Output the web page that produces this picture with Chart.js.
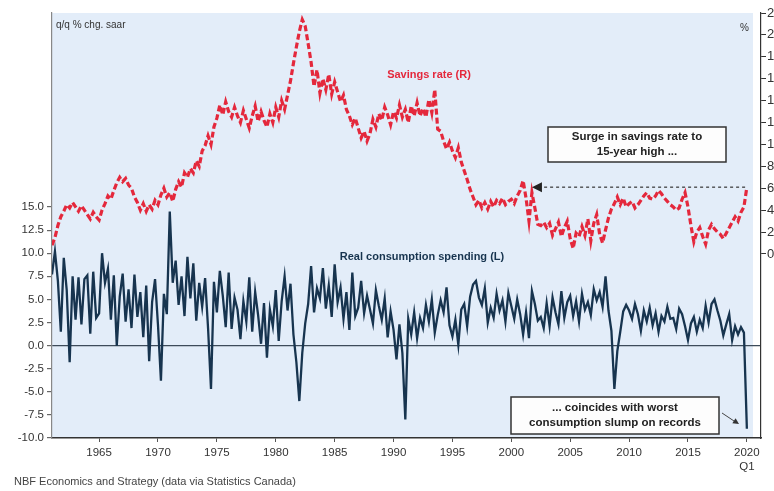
<!DOCTYPE html>
<html>
<head>
<meta charset="utf-8">
<script src="https://cdn.jsdelivr.net/npm/chart.js@4.4.0/dist/chart.umd.min.js"></script>
<style>
  html, body { margin: 0; padding: 0; background: #fff; overflow: hidden; }
  #wrap { position: relative; width: 800px; height: 491px; }
</style>
</head>
<body>
<div id="wrap"><canvas id="chart" width="800" height="491"></canvas></div>
<script>
// quarterly series, 1961 Q1 .. 2020 Q1
const firstYear = 1961;

// real consumption spending, q/q % chg. saar (left axis)
const consumption = [
  7.7, 10.2, 7.0, 1.5,
  9.5, 6.0, -1.8, 7.5,
  2.8, 7.4, 2.3, 7.2,
  7.6, 1.3, 8.0, 3.0,
  3.5, 10.0, 6.8, 8.3,
  2.8, 7.6, 0.0, 5.3,
  7.8, 2.6, 6.1, 1.9,
  7.7, 3.1, 5.8, 0.9,
  6.5, -1.7, 4.7, 7.2,
  2.2, -3.8, 5.6, 3.4,
  14.5, 6.8, 9.2, 4.4,
  7.5, 3.2, 9.6, 5.1,
  8.9, 2.7, 6.8, 4.2,
  7.3, 1.9, -4.7, 6.9,
  3.6, 8.1, 5.4, 2.0,
  7.9, 1.8, 5.2, 3.9,
  0.7, 4.8, 2.6, 7.4,
  1.5, 5.8, 3.3, 0.2,
  4.6, -1.3, 3.9, 2.1,
  6.0, 0.5, 4.8, 7.5,
  3.8, 6.7, 1.2, -1.8,
  -6.0, -0.8, 2.4, 4.5,
  8.6, 3.6, 6.2, 5.1,
  8.4, 4.0, 6.5, 3.1,
  8.8, 4.7, 6.3, 2.9,
  5.8, 1.7, 7.9, 3.2,
  4.1, 7.0, 3.5, 5.4,
  3.9, 2.4, 6.0, 4.3,
  2.8, 5.1, 0.9, 3.7,
  1.7, -1.5, 2.3, -0.8,
  -8.0, 2.9, 1.2, 3.6,
  0.8, 3.0, 1.9, 4.4,
  2.6, 5.0, 1.4, 3.3,
  4.9, 3.6, 6.3, 2.2,
  1.0, 2.8, 0.1, 3.9,
  4.5, 2.1, 5.3, 6.6,
  7.0, 5.2, 4.4, 6.2,
  2.5, 4.1, 3.0, 5.6,
  3.8, 4.9, 2.6, 5.7,
  4.3, 2.9, 5.0, 3.4,
  1.2, 3.6, 0.8, 5.9,
  4.5, 2.7, 3.1, 1.9,
  4.6, 2.1, 5.2, 3.6,
  2.3, 5.9, 3.0, 4.7,
  5.4, 3.2, 4.8, 2.6,
  5.6, 3.9, 4.7, 3.3,
  6.1, 4.9, 5.8, 4.2,
  7.5, 3.8, 1.6, -4.7,
  -0.6, 1.5, 3.7, 4.4,
  3.8, 2.9, 4.5, 3.4,
  1.6, 3.8, 2.6, 4.1,
  2.2, 3.5, 1.5, 3.2,
  2.6, 4.2, 2.9, 3.0,
  1.8, 4.0, 3.4, 2.1,
  0.6, 2.4, 3.1, 1.5,
  2.8, 1.9, 4.3, 2.5,
  4.5, 5.0, 3.8, 2.7,
  1.1, 2.3, 3.4, 0.6,
  2.1, 1.2, 2.0, 1.4,
  -9.0
];

// household savings rate, % (right axis)
const savingsRate = [
  0.8, 1.5, 2.6, 3.4,
  3.9, 4.5, 4.2, 4.7,
  4.3, 3.9, 4.4, 4.0,
  3.6, 3.2, 3.8, 3.4,
  3.1, 4.0, 4.6, 5.3,
  5.0, 5.8, 6.5, 7.0,
  6.6, 6.9, 6.3, 6.0,
  5.2, 4.7, 4.0, 4.6,
  3.9, 4.5, 4.1, 4.9,
  4.5, 5.4, 6.0, 5.2,
  5.6, 4.8, 5.9, 6.6,
  6.1, 7.4, 7.0, 7.8,
  7.4, 8.5, 8.0, 9.4,
  9.9, 10.8, 10.0, 11.6,
  12.4, 13.6, 12.7, 13.9,
  13.0, 12.5, 13.4, 12.6,
  12.0, 13.1, 12.3, 11.5,
  12.6, 13.5, 12.1, 13.0,
  12.2, 11.6, 12.8, 12.0,
  13.4, 12.5, 14.0, 13.2,
  14.5, 15.8, 17.4, 18.9,
  20.3, 21.4, 20.8, 19.2,
  17.5, 15.3, 16.8, 14.7,
  16.0, 15.0, 16.4, 14.6,
  15.7, 14.8, 13.9, 14.5,
  13.2, 12.6, 11.8, 12.4,
  11.5, 10.6, 11.2, 10.3,
  11.0, 12.3, 11.6, 12.8,
  12.2, 13.4, 12.7, 11.8,
  13.0, 12.4, 13.6, 12.5,
  13.2, 12.0, 13.5, 12.6,
  13.8, 12.6, 13.3, 12.5,
  14.1, 12.9, 15.0, 11.4,
  11.2, 10.3, 9.6, 10.2,
  9.4, 8.8, 9.7, 8.4,
  7.6, 6.8, 5.9, 5.2,
  4.5, 4.9, 4.2, 4.7,
  4.1, 4.8, 4.3, 4.9,
  4.6, 5.1, 4.5, 4.8,
  5.0, 4.6, 5.3, 5.8,
  6.7, 5.1, 3.0, 5.6,
  4.2, 2.7, 2.6, 2.9,
  2.4, 2.8, 1.7, 2.3,
  2.9, 1.6, 2.4, 3.0,
  1.4, 0.5, 1.9, 1.6,
  2.5, 1.7, 3.2, 1.2,
  2.8, 3.6, 1.8, 1.0,
  2.2, 3.3, 4.1, 4.6,
  5.2, 4.5, 5.1, 4.3,
  4.6, 4.8, 4.2, 4.5,
  4.9, 5.3, 5.6, 5.1,
  5.0, 5.3, 5.8, 5.5,
  5.1, 4.8, 4.5, 4.3,
  4.0, 4.2, 5.0, 5.6,
  4.3, 2.6, 1.1, 2.0,
  2.4, 1.6, 0.9, 2.2,
  2.7, 2.3, 2.0, 1.8,
  1.4, 1.9, 2.4, 2.9,
  3.4, 3.0, 3.8, 4.3,
  6.1
];

const yearTicks = [1965, 1970, 1975, 1980, 1985, 1990, 1995, 2000, 2005, 2010, 2015, 2020];
const leftTicks = [-10, -7.5, -5, -2.5, 0, 2.5, 5, 7.5, 10, 12.5, 15];
const rightTicks = [0, 2, 4, 6, 8, 10, 12, 14, 16, 18, 20, 22];

const toPoints = arr => arr.map((v, i) => ({ x: firstYear + i / 4, y: v }));

const FONT = '"Liberation Sans", Arial, sans-serif';
const RED = '#e4283c';
const NAVY = '#17344f';

function arrowHead(ctx, x, y, angle, size) {
  ctx.save();
  ctx.translate(x, y);
  ctx.rotate(angle);
  ctx.beginPath();
  ctx.moveTo(0, 0);
  ctx.lineTo(-size, -size * 0.5);
  ctx.lineTo(-size, size * 0.5);
  ctx.closePath();
  ctx.fill();
  ctx.restore();
}

function textBox(ctx, x, y, w, h, lines) {
  ctx.save();
  ctx.fillStyle = '#fdfdfd';
  ctx.fillRect(x, y, w, h);
  ctx.strokeStyle = '#333';
  ctx.lineWidth = 1.5;
  ctx.strokeRect(x, y, w, h);
  ctx.fillStyle = '#222';
  ctx.font = 'bold 11.5px ' + FONT;
  ctx.textAlign = 'center';
  ctx.textBaseline = 'middle';
  lines.forEach((t, i) => ctx.fillText(t, x + w / 2, y + h / 2 + (i - (lines.length - 1) / 2) * 15));
  ctx.restore();
}

// light blue plot background
const plotBg = {
  id: 'plotBg',
  beforeDraw(chart) {
    const { ctx, chartArea: a } = chart;
    ctx.save();
    ctx.fillStyle = '#e3edf9';
    ctx.fillRect(a.left, a.top, a.right - a.left - 8, a.bottom - a.top);
    ctx.restore();
  }
};

// titles, series labels, source and call-outs
const notes = {
  id: 'notes',
  afterDraw(chart) {
    const { ctx } = chart;
    const xs = chart.scales.x;
    const yR = chart.scales.yR;
    ctx.save();
    ctx.textBaseline = 'middle';

    ctx.fillStyle = '#333';
    ctx.font = '10px ' + FONT;
    ctx.textAlign = 'left';
    ctx.fillText('q/q % chg. saar', 56, 25);
    ctx.fillText('%', 740, 28);

    ctx.font = '11px ' + FONT;
    ctx.fillStyle = '#444';
    ctx.fillText('NBF Economics and Strategy (data via Statistics Canada)', 14, 482);

    ctx.font = 'bold 11px ' + FONT;
    ctx.textAlign = 'center';
    ctx.fillStyle = RED;
    ctx.fillText('Savings rate (R)', 429, 75);
    ctx.fillStyle = NAVY;
    ctx.fillText('Real consumption spending (L)', 422, 257);

    // dashed arrow back to the last time savings were this high
    const lastSave = savingsRate[savingsRate.length - 1];
    const ay = yR.getPixelForValue(lastSave);
    const tipX = xs.getPixelForValue(2001.75);
    const tailX = xs.getPixelForValue(2019.85);
    ctx.strokeStyle = '#333';
    ctx.fillStyle = '#222';
    ctx.lineWidth = 1.2;
    ctx.setLineDash([3, 3]);
    ctx.beginPath();
    ctx.moveTo(tailX, ay);
    ctx.lineTo(tipX + 8, ay);
    ctx.stroke();
    ctx.setLineDash([]);
    arrowHead(ctx, tipX, ay, Math.PI, 10);

    textBox(ctx, 548, 127, 178, 35, ['Surge in savings rate to', '15-year high ...']);
    textBox(ctx, 511, 397, 208, 37, ['... coincides with worst', 'consumption slump on records']);

    // small pointer to the 2020 Q1 drop
    ctx.strokeStyle = '#444';
    ctx.fillStyle = '#333';
    ctx.lineWidth = 1;
    ctx.beginPath();
    ctx.moveTo(722, 413);
    ctx.lineTo(734, 421);
    ctx.stroke();
    arrowHead(ctx, 739, 424, Math.atan2(11, 17), 6);
    ctx.restore();
  }
};

new Chart(document.getElementById('chart'), {
  type: 'line',
  data: {
    datasets: [
      {
        label: 'Savings rate (R)',
        data: toPoints(savingsRate),
        yAxisID: 'yR',
        borderColor: RED,
        borderWidth: 3.2,
        borderDash: [6, 3],
        pointRadius: 0,
        tension: 0
      },
      {
        label: 'Real consumption spending (L)',
        data: toPoints(consumption),
        yAxisID: 'yL',
        borderColor: NAVY,
        borderWidth: 2.3,
        pointRadius: 0,
        tension: 0
      }
    ]
  },
  options: {
    responsive: false,
    animation: false,
    layout: { padding: { top: 13, left: 0, right: 0, bottom: 0 } },
    plugins: { legend: { display: false }, tooltip: { enabled: false } },
    scales: {
      x: {
        type: 'linear',
        min: 1961,
        max: 2021.2,
        afterBuildTicks: s => { s.ticks = yearTicks.map(v => ({ value: v })); },
        afterFit: s => { s.height = 53; },
        ticks: {
          color: '#333',
          font: { family: FONT, size: 11.5 },
          padding: 4,
          maxRotation: 0,
          autoSkip: false,
          callback: v => (v === 2020 ? ['2020', 'Q1'] : String(v))
        },
        grid: { drawOnChartArea: false, tickLength: 4, tickColor: '#555' },
        border: { color: '#333', width: 1.5 }
      },
      yL: {
        position: 'left',
        min: -10,
        max: 36,
        afterBuildTicks: s => { s.ticks = leftTicks.map(v => ({ value: v })); },
        afterFit: s => { s.width = 52; },
        ticks: {
          color: '#333',
          font: { family: FONT, size: 11.5 },
          padding: 3,
          callback: v => v.toFixed(1)
        },
        grid: {
          color: c => (c.tick && c.tick.value === 0 ? '#3d4b5a' : 'rgba(255,255,255,0)'),
          lineWidth: 1.2,
          tickLength: 5,
          tickColor: '#666'
        },
        border: { color: '#888', width: 1.2 }
      },
      yR: {
        position: 'right',
        min: -16.8,
        max: 22,
        afterBuildTicks: s => { s.ticks = rightTicks.map(v => ({ value: v })); },
        afterFit: s => { s.width = 39; },
        ticks: {
          color: '#333',
          font: { family: FONT, size: 13 },
          padding: 1
        },
        grid: { drawOnChartArea: false, tickLength: 5, tickColor: '#333' },
        border: { color: '#333', width: 1.2 }
      }
    }
  },
  plugins: [plotBg, notes]
});
</script>
</body>
</html>
